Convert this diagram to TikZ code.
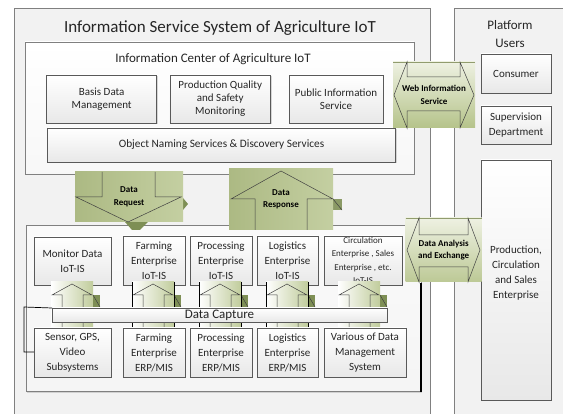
\documentclass[tikz,border=0pt]{standalone}
\usepackage{fontspec}
\setmainfont{Carlito}
\usetikzlibrary{positioning, shadows, calc}

\definecolor{frame}{HTML}{808080}
\definecolor{boxline}{HTML}{595959}
\definecolor{panel}{HTML}{F2F2F2}
\definecolor{olive}{HTML}{B5C38A}
\definecolor{olivedark}{HTML}{7E8F55}
\definecolor{olivelight}{HTML}{EEF1E2}
\definecolor{txt}{HTML}{262626}

\begin{document}
\begin{tikzpicture}[x=1pt, y=-1pt,
    box/.style={rectangle, draw=boxline, line width=0.6pt, top color=white, bottom color=black!9, text=txt, align=center, inner sep=1pt, outer sep=0pt, font=\fontsize{11}{13}\selectfont, drop shadow={shadow xshift=1pt, shadow yshift=-1.2pt, fill=black!30}},
    layerbox/.style={box, font=\fontsize{11}{15}\selectfont},
    greenbox/.style={rectangle, inner sep=0pt, outer sep=0pt, text=black, align=center, font=\fontsize{9}{12.5}\selectfont\bfseries},
    arrowline/.style={draw=black!75, line width=0.5pt, line join=miter},
    panelframe/.style={draw=frame, line width=1pt}]

    \useasboundingbox (0,0) rectangle (563,414);

    % Panels
    \fill[panel] (14.7,9) rectangle (430.7,414);
    \draw[panelframe] (14.7,414) -- (14.7,9) -- (430.7,9) -- (430.7,414);
    \fill[panel] (454.7,9) rectangle (563,414);
    \draw[panelframe] (454.7,414) -- (454.7,9) -- (563,9);

    \node[font=\fontsize{17}{20}\selectfont, text=txt] (title) at (220,28) {Information Service System of Agriculture IoT};
    \node[font=\fontsize{13}{18}\selectfont, text=txt, align=center] (platform) at (510,34) {Platform\\Users};

    % Information center
    \node[box, draw=frame, top color=white, bottom color=white!97!black, minimum width=389, minimum height=132] (center) at (219.5,108) {};
    \node[font=\fontsize{13}{15}\selectfont, text=txt] (centertitle) at (213,59) {Information Center of Agriculture IoT};
    \node[box, minimum width=110, minimum height=48] (basis) at (101.7,99) {Basis Data\\Management};
    \node[box, minimum width=100.7, minimum height=48] (quality) at (220.3,99) {Production Quality\\and Safety\\Monitoring};
    \node[box, minimum width=94, minimum height=48] (public) at (336,99) {Public Information\\Service};
    \node[box, font=\fontsize{11.3}{13}\selectfont, minimum width=348, minimum height=34] (ons) at (221.5,145) {Object Naming Services \& Discovery Services};

    % Data layer
    \node[box, draw=frame, top color=white!98!black, bottom color=white!96!black, minimum width=395, minimum height=166] (layer) at (223.5,308.5) {};

    % Request / response
    \fill[olivedark] (125,222) -- (148,222) -- (140,230) -- (132,230) -- cycle;
    \fill[olivedark] (183,198) -- (188,204) -- (183,210) -- cycle;
    \node[greenbox, left color=olive!95!black, right color=olive!80!white, minimum width=108, minimum height=50] (request) at (129,197) {Data\\Request};
    \draw[arrowline] (102,172) -- (102,197) -- (76,197) -- (128,222) -- (181,197) -- (155,197) -- (155,172);
    \fill[olivedark!90] (333,199) rectangle (342,210);
    \draw[arrowline] (333,199) -- (342,210);
    \node[greenbox, left color=olive!95!black, right color=olive!80!white, minimum width=104, minimum height=61] (response) at (281,199.5) {Data\\Response};
    \draw[arrowline] (281,171) -- (231,199) -- (255,199) -- (255,230);
    \draw[arrowline] (307,230) -- (307,199) -- (333,199) -- (281,171);

    % IoT-IS row
    \node[layerbox, minimum width=77, minimum height=48] (monitor) at (72.5,261) {Monitor Data\\IoT-IS};
    \node[layerbox, minimum width=62, minimum height=49] (farmis) at (154,260.5) {Farming\\Enterprise\\IoT-IS};
    \node[layerbox, minimum width=62, minimum height=49, right=5pt of farmis] (procis) {Processing\\Enterprise\\IoT-IS};
    \node[layerbox, minimum width=61, minimum height=49, right=5pt of procis] (logis) {Logistics\\Enterprise\\IoT-IS};
    \node[layerbox, font=\fontsize{9}{13.5}\selectfont, minimum width=78, minimum height=49, right=6pt of logis] (circis) {Circulation\\Enterprise , Sales\\Enterprise , etc.\\IoT-IS};

    % Capture arrows
    \foreach \ax in {51,132,199,266,338} {
        \fill[left color=white, right color=olive!85] (\ax,282) rectangle ++(42,46);
        \draw[arrowline] (\ax+11,328) -- (\ax+11,295) -- (\ax+1,295) -- (\ax+21,284) -- (\ax+41,295) -- (\ax+32,295) -- (\ax+32,328);
        \fill[olivedark] (\ax+42,295) rectangle ++(7,12);
        \draw[arrowline] (\ax+42,295) -- ++(7,12);
    }
    \foreach \ax in {132,199,266} {
        \draw[black, line width=0.6pt] (\ax,282) -- (\ax,328) (\ax+42,282) -- (\ax+42,328);
    }

    \node[box, font=\fontsize{13}{15}\selectfont, minimum width=335, minimum height=14, inner sep=0pt] (capture) at (219.5,315) {Data Capture};
    \draw[black, line width=0.7pt] (capture.west) ++(0,-7) -- (24,307) -- (24,352) -- (34,352);

    % ERP/MIS row
    \node[layerbox, minimum width=77, minimum height=49] (sensor) at (72.5,352.5) {Sensor, GPS,\\Video\\Subsystems};
    \node[layerbox, minimum width=62, minimum height=49] (farmerp) at (154,352.5) {Farming\\Enterprise\\ERP/MIS};
    \node[layerbox, minimum width=62, minimum height=49, right=5pt of farmerp] (procerp) {Processing\\Enterprise\\ERP/MIS};
    \node[layerbox, minimum width=61, minimum height=49, right=5pt of procerp] (logerp) {Logistics\\Enterprise\\ERP/MIS};
    \node[layerbox, minimum width=82, minimum height=49, right=6pt of logerp] (various) {Various of Data\\Management\\System};
    \draw[black, line width=1.3pt] (421,283) -- (421,392);

    % Platform users
    \node[layerbox, minimum width=70, minimum height=39] (consumer) at (516,73.5) {Consumer};
    \node[layerbox, minimum width=70, minimum height=38] (supervision) at (516,125) {Supervision\\Department};
    \node[layerbox, minimum width=70, minimum height=240] (enterprise) at (516,280) {};
    \node[font=\fontsize{11}{15}\selectfont, text=txt, align=center] (enterprisetext) at (516,273) {Production,\\Circulation\\and Sales\\Enterprise};

    % Exchange arrows
    \node[greenbox, top color=olivelight, bottom color=olive, minimum width=82, minimum height=66] (web) at (434,95) {Web Information\\Service};
    \draw[olive!80!black, line width=0.8pt] (web.north west) -- (web.north east);
    \draw[arrowline] (407,62) -- (407,77) -- (460,77) -- (460,62) -- (474,95) -- (460,128) -- (460,111) -- (407,111) -- (407,128) -- (394,95) -- cycle;
    \node[greenbox, top color=olivelight, bottom color=olive!90, minimum width=76, minimum height=64] (exchange) at (443.7,250) {Data Analysis\\and Exchange};
    \draw[olive!80!black, line width=0.8pt] (exchange.north west) -- (exchange.north east);
    \draw[arrowline] (419,218) -- (419,235) -- (468,235) -- (468,218) -- (480,250) -- (468,282) -- (468,267) -- (419,267) -- (419,282) -- (407,250) -- cycle;

\end{tikzpicture}
\end{document}
